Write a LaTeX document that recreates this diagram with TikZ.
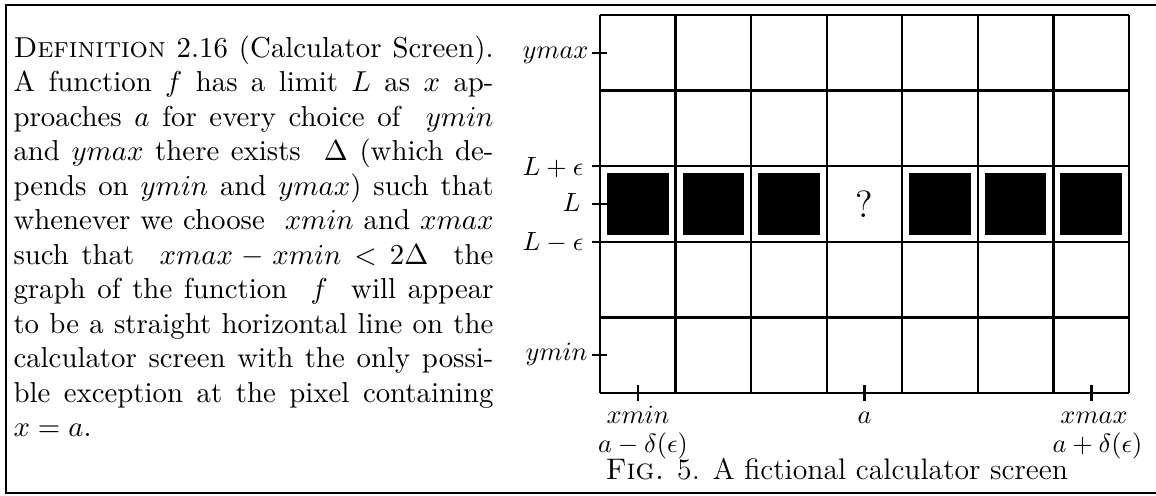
\documentclass[tikz,border=0pt]{standalone}
\newlength\deflinew
\setlength\deflinew{182.4pt}
\begin{document}
\begin{tikzpicture}[x=0.38pt,y=-0.38pt,
  gridline/.style={line width=0.9pt},
  frameline/.style={line width=0.9pt},
  tickline/.style={line width=0.9pt},
  pixel/.style={fill=black,draw=none},
  lab/.style={inner sep=0pt,font=\fontsize{10.3}{12}\selectfont},
  txt/.style={anchor=base west,inner sep=0pt,font=\fontsize{10.95}{13}\selectfont}]
\useasboundingbox (0,0) rectangle (1156,495);
% frame
\draw[frameline] (1156,5) -- (6,5) -- (6,493) -- (1156,493);
% definition text
\node[txt] (l1) at (13,57) {\makebox[\deflinew][s]{\textsc{Definition} 2.16 (Calculator Screen).}};
\node[txt] (l2) at (13,91.5) {\makebox[\deflinew][s]{A function $f$ has a limit $L$ as $x$ ap-}};
\node[txt] (l3) at (13,126) {\makebox[\deflinew][s]{proaches $a$ for every choice of \ $ymin$}};
\node[txt] (l4) at (13,160.5) {\makebox[\deflinew][s]{and $ymax$ there exists \ $\Delta$ (which de-}};
\node[txt] (l5) at (13,195) {\makebox[\deflinew][s]{pends on $ymin$ and $ymax$) such that}};
\node[txt] (l6) at (13,229.5) {\makebox[\deflinew][s]{whenever we choose \ $xmin$ and $xmax$}};
\node[txt] (l7) at (13,264) {\makebox[\deflinew][s]{such that \ $xmax-xmin<2\Delta$ \ the}};
\node[txt] (l8) at (13,298.5) {\makebox[\deflinew][s]{graph of the function \ $f$ \ will appear}};
\node[txt] (l9) at (13,333) {\makebox[\deflinew][s]{to be a straight horizontal line on the}};
\node[txt] (l10) at (13,367.5) {\makebox[\deflinew][s]{calculator screen with the only possi-}};
\node[txt] (l11) at (13,402) {\makebox[\deflinew][s]{ble exception at the pixel containing}};
\node[txt] (l12) at (13,436.5) {$x=a$.};
% black pixels
\foreach \i in {0,1,2,4,5,6}
  \fill[pixel] (607+75.57*\i,173) rectangle ++(61.5,61.5);
% grid
\foreach \i in {0,...,7}
  \draw[gridline] (600+75.57*\i,15) -- (600+75.57*\i,393);
\foreach \j in {0,1,4,5}
  \draw[gridline] (600,15+75.6*\j) -- (1129,15+75.6*\j);
\draw[gridline] (592,166.2) -- (1129,166.2);
\draw[gridline] (592,241.8) -- (1129,241.8);
% y ticks
\draw[tickline] (592,52.8) -- (607,52.8);
\draw[tickline] (592,204) -- (607,204);
\draw[tickline] (592,355.2) -- (607,355.2);
% x ticks
\draw[tickline] (637.8,385) -- (637.8,401);
\draw[tickline] (864.6,385) -- (864.6,401);
\draw[tickline] (1091.4,385) -- (1091.4,401);
% y labels
\node[lab,anchor=base east] (ymax) at (589,58.5) {$ymax$};
\node[lab,anchor=base east] (lpe) at (584,175) {$L+\epsilon$};
\node[lab,anchor=base east] (lab L) at (581,211) {$L$};
\node[lab,anchor=base east] (lme) at (584,250) {$L-\epsilon$};
\node[lab,anchor=base east] (ymin) at (588,360.5) {$ymin$};
% question mark
\node[lab,font=\Large] (q) at (864.6,204) {?};
% x labels
\node[lab,anchor=base] (xmin) at (638,423) {$xmin$};
\node[lab,anchor=base] (amd) at (643,452) {$a-\delta(\epsilon)$};
\node[lab,anchor=base] (a) at (864.6,423) {$a$};
\node[lab,anchor=base] (xmax) at (1094,423) {$xmax$};
\node[lab,anchor=base] (apd) at (1097.5,452) {$a+\delta(\epsilon)$};
% caption
\node[lab,anchor=base west,font=\fontsize{11.3}{13}\selectfont] (cap) at (605,479) {\textsc{Fig.} 5. A fictional calculator screen};
\end{tikzpicture}
\end{document}
